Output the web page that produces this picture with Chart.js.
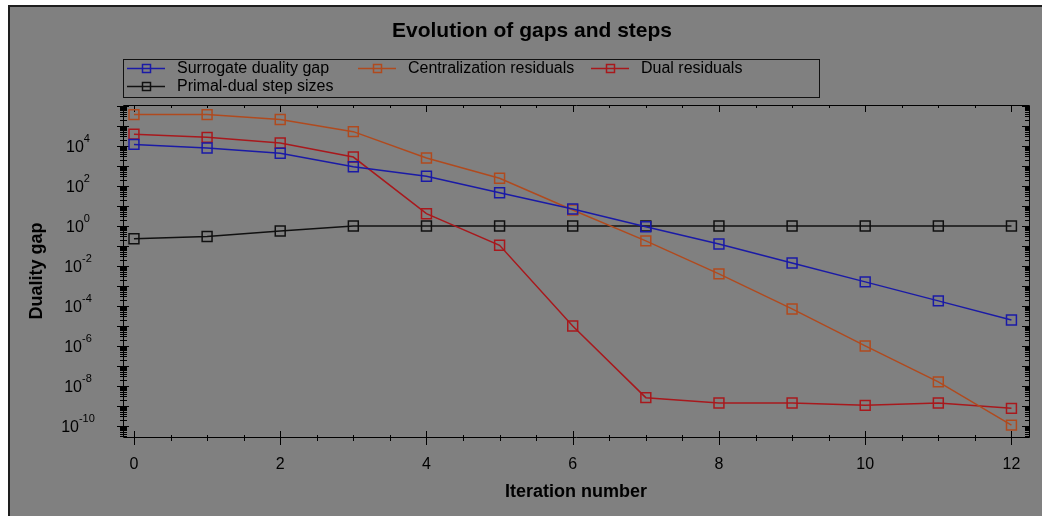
<!DOCTYPE html>
<html>
<head>
<meta charset="utf-8">
<script src="https://cdn.jsdelivr.net/npm/chart.js@4.4.1/dist/chart.umd.min.js"></script>
<style>
  html, body { margin: 0; padding: 0; background: #fff; }
  #frame { position: absolute; left: 8px; top: 5px; width: 1034px; height: 511px;
           background: #808080; border-left: 2px solid #1e1e1e; border-top: 2px solid #1e1e1e; }
  canvas { display: block; }
</style>
</head>
<body>
<div id="frame"><canvas id="chart" width="1032" height="509"></canvas></div>
<script>
const iterations = [0, 1, 2, 3, 4, 5, 6, 7, 8, 9, 10, 11, 12];
const surrogateGap = [1.2e4, 7.9e3, 4.3e3, 920, 307, 46, 7.1, 0.92, 0.126, 0.014, 1.6e-3, 1.8e-4, 2e-5];
const centralization = [3.7e5, 3.7e5, 2.1e5, 5.2e4, 2.5e3, 243, 6.3, 0.18, 4e-3, 7.1e-5, 1e-6, 1.6e-8, 1.1e-10];
const dualResiduals = [3.9e4, 2.7e4, 1.4e4, 2.8e3, 4.1, 0.108, 1e-5, 2.6e-9, 1.4e-9, 1.4e-9, 1.07e-9, 1.4e-9, 7.6e-10];
const stepSizes = [0.23, 0.30, 0.56, 1, 1, 1, 1, 1, 1, 1, 1, 1, 1];

const seriesNames = ['Surrogate duality gap', 'Centralization residuals', 'Dual residuals', 'Primal-dual step sizes'];
const seriesColors = ['#1a1aa6', '#b04a1e', '#a8181c', '#101010'];
const xTickLabels = ['0', '2', '4', '6', '8', '10', '12'];
const yTickExponents = [-10, -8, -6, -4, -2, 0, 2, 4];

const FONT = '"Liberation Sans", Arial, sans-serif';

// title + legend box drawn by hand, like the original window
const titleAndLegend = {
  id: 'titleAndLegend',
  afterDraw(chart) {
    const ctx = chart.ctx;
    ctx.save();
    ctx.fillStyle = '#000';
    ctx.textAlign = 'center';
    ctx.textBaseline = 'middle';
    ctx.font = 'bold 21px ' + FONT;
    ctx.fillText('Evolution of gaps and steps', 522, 24);

    ctx.strokeStyle = '#111';
    ctx.lineWidth = 1;
    ctx.strokeRect(113.5, 52.5, 696, 38);
    const slots = [[117, 61], [348, 61], [581, 61], [117, 79]];
    ctx.font = '16px ' + FONT;
    ctx.textAlign = 'left';
    chart.data.datasets.forEach((ds, i) => {
      const [x, y] = slots[i];
      ctx.strokeStyle = ds.borderColor;
      ctx.lineWidth = 1.5;
      ctx.beginPath();
      ctx.moveTo(x, y + 0.5); ctx.lineTo(x + 38, y + 0.5);
      ctx.stroke();
      ctx.strokeRect(x + 15.5, y - 3.5, 8, 8);
      ctx.fillStyle = '#000';
      ctx.fillText(ds.label, x + 50, y + 1);
    });
    ctx.restore();
  }
};

// frame, tick marks on all four sides, and 10^n labels with real superscripts
const tickMarks = {
  id: 'tickMarks',
  beforeDatasetsDraw(chart) {
    const {ctx, chartArea: a, scales: {x, y}} = chart;
    ctx.save();
    ctx.strokeStyle = '#000';
    ctx.lineWidth = 1;
    ctx.beginPath();
    ctx.rect(a.left + 0.5, a.top + 0.5, a.right - a.left, a.bottom - a.top);
    y.ticks.forEach(t => {
      const p = Math.round(y.getPixelForValue(t.value)) + 0.5;
      const major = t.major;
      ctx.moveTo(a.left - (major ? 6 : 3), p); ctx.lineTo(a.left + (major ? 6 : 4), p);
      ctx.moveTo(a.right - (major ? 7 : 4), p); ctx.lineTo(a.right, p);
    });
    x.ticks.forEach(t => {
      const p = Math.round(x.getPixelForValue(t.value)) + 0.5;
      const major = t.value % 2 === 0;
      ctx.moveTo(p, a.bottom - (major ? 6 : 2)); ctx.lineTo(p, a.bottom + (major ? 8 : 4));
      ctx.moveTo(p, a.top); ctx.lineTo(p, a.top + (major ? 7 : 3));
    });
    ctx.stroke();

    ctx.fillStyle = '#000';
    ctx.textAlign = 'left';
    ctx.textBaseline = 'alphabetic';
    yTickExponents.forEach(e => {
      const p = y.getPixelForValue(Math.pow(10, e));
      ctx.font = '16px ' + FONT;
      const wBase = ctx.measureText('10').width;
      ctx.font = '11px ' + FONT;
      const wExp = ctx.measureText(String(e)).width;
      const x0 = 68 - (wBase + wExp) / 2;
      ctx.font = '16px ' + FONT;
      ctx.fillText('10', x0, p + 6);
      ctx.font = '11px ' + FONT;
      ctx.fillText(String(e), x0 + wBase, p - 4);
    });
    ctx.restore();
  }
};

const makeSet = (i, values) => ({
  label: seriesNames[i],
  data: values.map((v, k) => ({x: iterations[k], y: v})),
  borderColor: seriesColors[i],
  backgroundColor: 'transparent',
  borderWidth: 1.5,
  pointStyle: 'rect',
  pointRadius: 7,
  pointHoverRadius: 7,
  pointBorderWidth: 1.5,
  pointBackgroundColor: 'transparent',
  tension: 0
});

new Chart(document.getElementById('chart'), {
  type: 'line',
  data: {
    datasets: [
      makeSet(0, surrogateGap),
      makeSet(1, centralization),
      makeSet(2, dualResiduals),
      makeSet(3, stepSizes)
    ]
  },
  options: {
    responsive: false,
    animation: false,
    layout: {padding: {top: 98, right: 13, left: 0, bottom: 0}},
    plugins: {legend: {display: false}, title: {display: false}, tooltip: {enabled: false}},
    scales: {
      x: {
        type: 'linear',
        min: -0.15,
        max: 12.24,
        afterBuildTicks: s => {
          const t = [];
          for (let v = 0; v <= 12; v += 0.5) t.push({value: v});
          s.ticks = t;
        },
        afterFit: s => { s.height = 79; },
        grid: {display: false},
        border: {display: false},
        ticks: {
          autoSkip: false, maxRotation: 0, padding: 10, color: '#000',
          font: {family: FONT, size: 16},
          callback: v => xTickLabels.includes(String(v)) ? String(v) : ''
        },
        title: {display: true, text: 'Iteration number', color: '#000',
                font: {family: FONT, size: 18, weight: 'bold'}, padding: {top: 0, bottom: 13}}
      },
      y: {
        type: 'logarithmic',
        min: 2.8e-11,
        max: 1.12e6,
        afterBuildTicks: s => {
          const t = [];
          for (let e = -11; e <= 6; e++) {
            for (let m = 1; m <= 9; m++) {
              const v = m * Math.pow(10, e);
              if (v >= s.min && v <= s.max) t.push({value: v, major: m === 1});
            }
          }
          s.ticks = t;
        },
        afterFit: s => { s.width = 113; },
        grid: {display: false},
        border: {display: false},
        ticks: {display: false, autoSkip: false},
        title: {display: true, text: 'Duality gap', color: '#000',
                font: {family: FONT, size: 18, weight: 'bold'}, padding: {top: 16, bottom: 0}}
      }
    }
  },
  plugins: [tickMarks, titleAndLegend]
});
</script>
</body>
</html>
